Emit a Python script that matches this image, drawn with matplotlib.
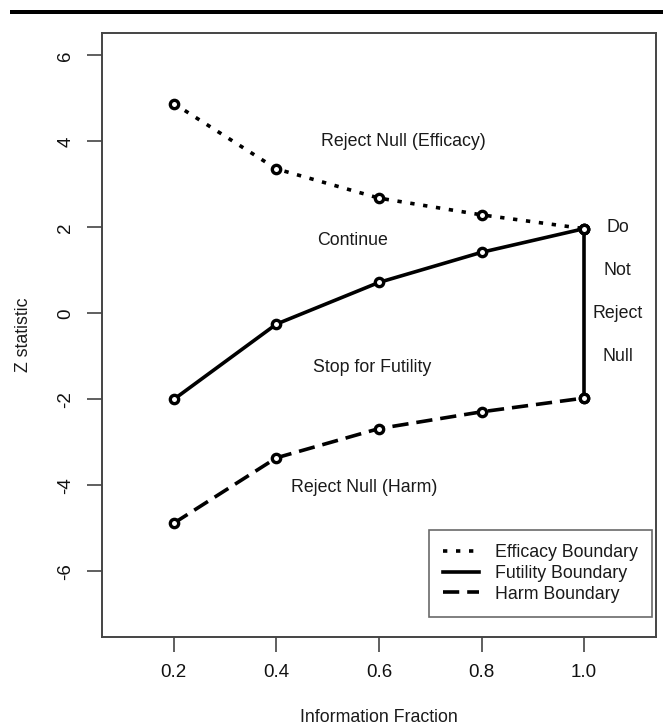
import matplotlib
matplotlib.use("Agg")
import matplotlib.pyplot as plt
from matplotlib.patches import Rectangle

# data
info_frac = [0.2, 0.4, 0.6, 0.8, 1.0]
efficacy = [4.88, 3.36, 2.68, 2.29, 1.97]
futility = [-2.00, -0.25, 0.72, 1.42, 1.97]
harm = [-4.88, -3.36, -2.68, -2.29, -1.97]

x_ticks = [0.2, 0.4, 0.6, 0.8, 1.0]
x_tick_labels = ["0.2", "0.4", "0.6", "0.8", "1.0"]
y_ticks = [-6, -4, -2, 0, 2, 4, 6]

region_labels = ["Reject Null (Efficacy)", "Continue", "Stop for Futility", "Reject Null (Harm)"]
region_x = [0.647, 0.548, 0.587, 0.571]
region_y = [4.0, 1.7, -1.25, -4.05]
side_words = ["Do", "Not", "Reject", "Null"]
side_y = [2, 1, 0, -1]

plt.rcParams['font.family'] = ['Liberation Sans', 'DejaVu Sans']
TXT = '#1a1a1a'
AX = '#444444'
FS = 12.8

fig = plt.figure(figsize=(6.63, 7.25), dpi=100)
ax = fig.add_axes([102 / 663, 1 - 636.7 / 725, 554 / 663, 603.7 / 725])

# black rule at the top of the page
fig.add_artist(Rectangle((10 / 663, 1 - 14 / 725), 653 / 663, 4 / 725,
                         transform=fig.transFigure, color='black', lw=0))

mk = dict(marker='o', ms=6, mfc='white', mec='black', mew=2.4)
lw = 2.6
ax.plot(info_frac, efficacy, color='black', lw=lw, dashes=(1.2, 2.4),
        label="Efficacy Boundary", **mk)
ax.plot(info_frac, futility, color='black', lw=lw, ls='-',
        label="Futility Boundary", **mk)
ax.plot(info_frac, harm, color='black', lw=lw, dashes=(4.5, 2.2),
        label="Harm Boundary", **mk)
# closing segment at the final look
ax.plot([info_frac[-1], info_frac[-1]], [harm[-1], futility[-1]],
        color='black', lw=lw, **mk)

for lab, x, y in zip(region_labels, region_x, region_y):
    ax.text(x, y, lab, ha='center', va='center', fontsize=FS, color=TXT)
for w, y in zip(side_words, side_y):
    ax.text(1.065, y, w, ha='center', va='center', fontsize=FS, color=TXT)

ax.set_xlim(0.06, 1.14)
ax.set_ylim(-7.52, 6.52)
ax.set_xticks(x_ticks)
ax.set_xticklabels(x_tick_labels)
ax.set_yticks(y_ticks)
ax.set_yticklabels([str(t) for t in y_ticks], rotation=90, va='center')
ax.tick_params(axis='both', length=11, width=1.2, color=AX, labelsize=13.5,
               labelcolor='#111111')
ax.tick_params(axis='x', pad=9)
ax.tick_params(axis='y', pad=9)
for s in ax.spines.values():
    s.set_color(AX)
    s.set_linewidth(1.4)

ax.set_xlabel("Information Fraction", fontsize=FS, color=TXT, labelpad=20)
ax.set_ylabel("Z statistic", fontsize=FS, color=TXT, labelpad=18)

leg = ax.legend(loc='lower right', bbox_to_anchor=(0.993, 0.033),
                borderaxespad=0, fontsize=FS, frameon=True, fancybox=False,
                handlelength=2.0, handletextpad=0.9, labelspacing=0.2,
                borderpad=0.8, edgecolor=AX)
leg.get_frame().set_linewidth(1.2)
for h in leg.get_lines():
    h.set_marker('')
for t in leg.get_texts():
    t.set_color(TXT)

fig.savefig("out.png", dpi=100)
